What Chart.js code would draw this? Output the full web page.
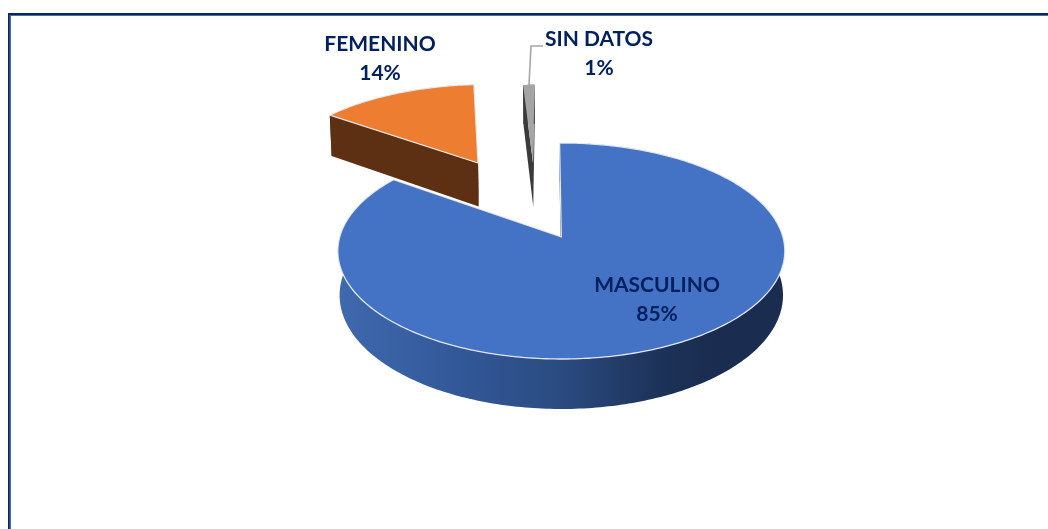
<!DOCTYPE html>
<html>
<head>
<meta charset="utf-8">
<style>html,body{margin:0;padding:0;background:#fff}canvas{display:block}</style>
<script src="https://cdn.jsdelivr.net/npm/chart.js@4"></script>
</head>
<body>
<canvas id="c" width="1048" height="529"></canvas>
<script>
const categories = ['MASCULINO', 'FEMENINO', 'SIN DATOS'];
const percentValues = [85, 14, 1];
const topColors = ['#4472C4', '#ED7D31', '#A5A5A5'];
const wallColors = ['#2b4b80', '#5E3013', '#3a3a3a'];

// Projection of the unit pie plane onto the picture (3D-pie look)
const CX = 561.3, CY = 237, PK = -0.1296, PA = 106.2, PC = 221.6, DEPTH = 43.5, BASE_X = 0.992;
const SLICE_SHIFT = [[0, 0], [-0.413, -0.766], [-0.14, -0.76]];
const SLICE_DEPTH = [1, 1.1, 1.1];
const LABEL_POS = [[657, 285], [380, 44], [599, 39]];

function topPt(u, v) {
  const d = 1 + PK * v;
  return [CX + PC * u / d, CY + PA * v / d];
}
function basePt(u, v, k) {
  const d = 1 + PK * v;
  return [CX + PC * BASE_X * u / d, CY + PA * v / d + DEPTH * k / d];
}
function arcPts(fn, a0, a1, s, k) {
  const n = Math.max(4, Math.ceil(Math.abs(a1 - a0) * 60)), out = [];
  for (let i = 0; i <= n; i++) {
    const a = a0 + (a1 - a0) * i / n;
    out.push(fn(Math.cos(a) + s[0], Math.sin(a) + s[1], k));
  }
  return out;
}
function poly(ctx, pts) {
  ctx.beginPath();
  pts.forEach((p, i) => i ? ctx.lineTo(p[0], p[1]) : ctx.moveTo(p[0], p[1]));
  ctx.closePath();
}

const pie3d = {
  id: 'pie3d',
  beforeDatasetsDraw(chart) {
    const ctx = chart.ctx;
    const arcs = chart.getDatasetMeta(0).data;
    // frame
    ctx.save();
    ctx.fillStyle = '#4a6fa8';
    ctx.fillRect(9, 15, 2, 514);
    ctx.fillRect(9, 15, 1039, 1);
    ctx.fillStyle = '#0d2466';
    ctx.fillRect(8, 13, 1040, 2);
    ctx.fillRect(8, 13, 1.5, 516);
    ctx.restore();

    const blueWall = ctx.createLinearGradient(338, 0, 785, 0);
    blueWall.addColorStop(0, '#3f69ae');
    blueWall.addColorStop(0.25, '#33599a');
    blueWall.addColorStop(0.5, '#2b4b80');
    blueWall.addColorStop(0.72, '#1d3259');
    blueWall.addColorStop(0.85, '#1a2c4f');
    blueWall.addColorStop(1, '#1a2c4f');

    arcs.forEach((el, i) => {
      const s = SLICE_SHIFT[i], k = SLICE_DEPTH[i], a0 = el.startAngle, a1 = el.endAngle;
      const fill = i === 0 ? blueWall : wallColors[i];
      const apexT = topPt(s[0], s[1]), apexB = basePt(s[0], s[1], k);
      const top = arcPts(topPt, a0, a1, s, k), base = arcPts(basePt, a0, a1, s, k);
      ctx.save();
      ctx.fillStyle = i === 0 ? '#16264a' : fill;
      poly(ctx, [top[0], apexT, apexB, base[0]]); ctx.fill();
      poly(ctx, [top[top.length - 1], apexT, apexB, base[base.length - 1]]); ctx.fill();
      ctx.fillStyle = fill;
      poly(ctx, top.concat(base.slice().reverse())); ctx.fill();
      ctx.fillStyle = el.options.backgroundColor;
      poly(ctx, [apexT].concat(top)); ctx.fill();
      ctx.strokeStyle = 'rgba(240,242,248,0.9)';
      ctx.lineWidth = 1.3;
      ctx.lineJoin = 'round';
      if (i !== 2) ctx.stroke();
      ctx.restore();
    });

    // leader line
    ctx.save();
    ctx.strokeStyle = '#a6a6a6';
    ctx.lineWidth = 1.6;
    ctx.beginPath();
    ctx.moveTo(543, 46); ctx.lineTo(531, 46); ctx.lineTo(529, 85);
    ctx.stroke();
    ctx.restore();

    // labels
    ctx.save();
    ctx.font = 'bold 21px Lato, "Open Sans", sans-serif';
    ctx.textAlign = 'center';
    ctx.textBaseline = 'middle';
    ctx.fillStyle = '#002060';
    categories.forEach((name, i) => {
      const p = LABEL_POS[i];
      ctx.fillText(name, p[0], p[1]);
      ctx.fillText(percentValues[i] + '%', p[0], p[1] + 29.5);
    });
    ctx.restore();
    return false;
  }
};

new Chart(document.getElementById('c'), {
  type: 'pie',
  data: {
    labels: categories,
    datasets: [{ data: percentValues, backgroundColor: topColors, borderWidth: 0 }]
  },
  options: {
    responsive: false,
    animation: false,
    rotation: -0.5,
    plugins: { legend: { display: false }, tooltip: { enabled: false } }
  },
  plugins: [pie3d]
});
</script>
</body>
</html>
